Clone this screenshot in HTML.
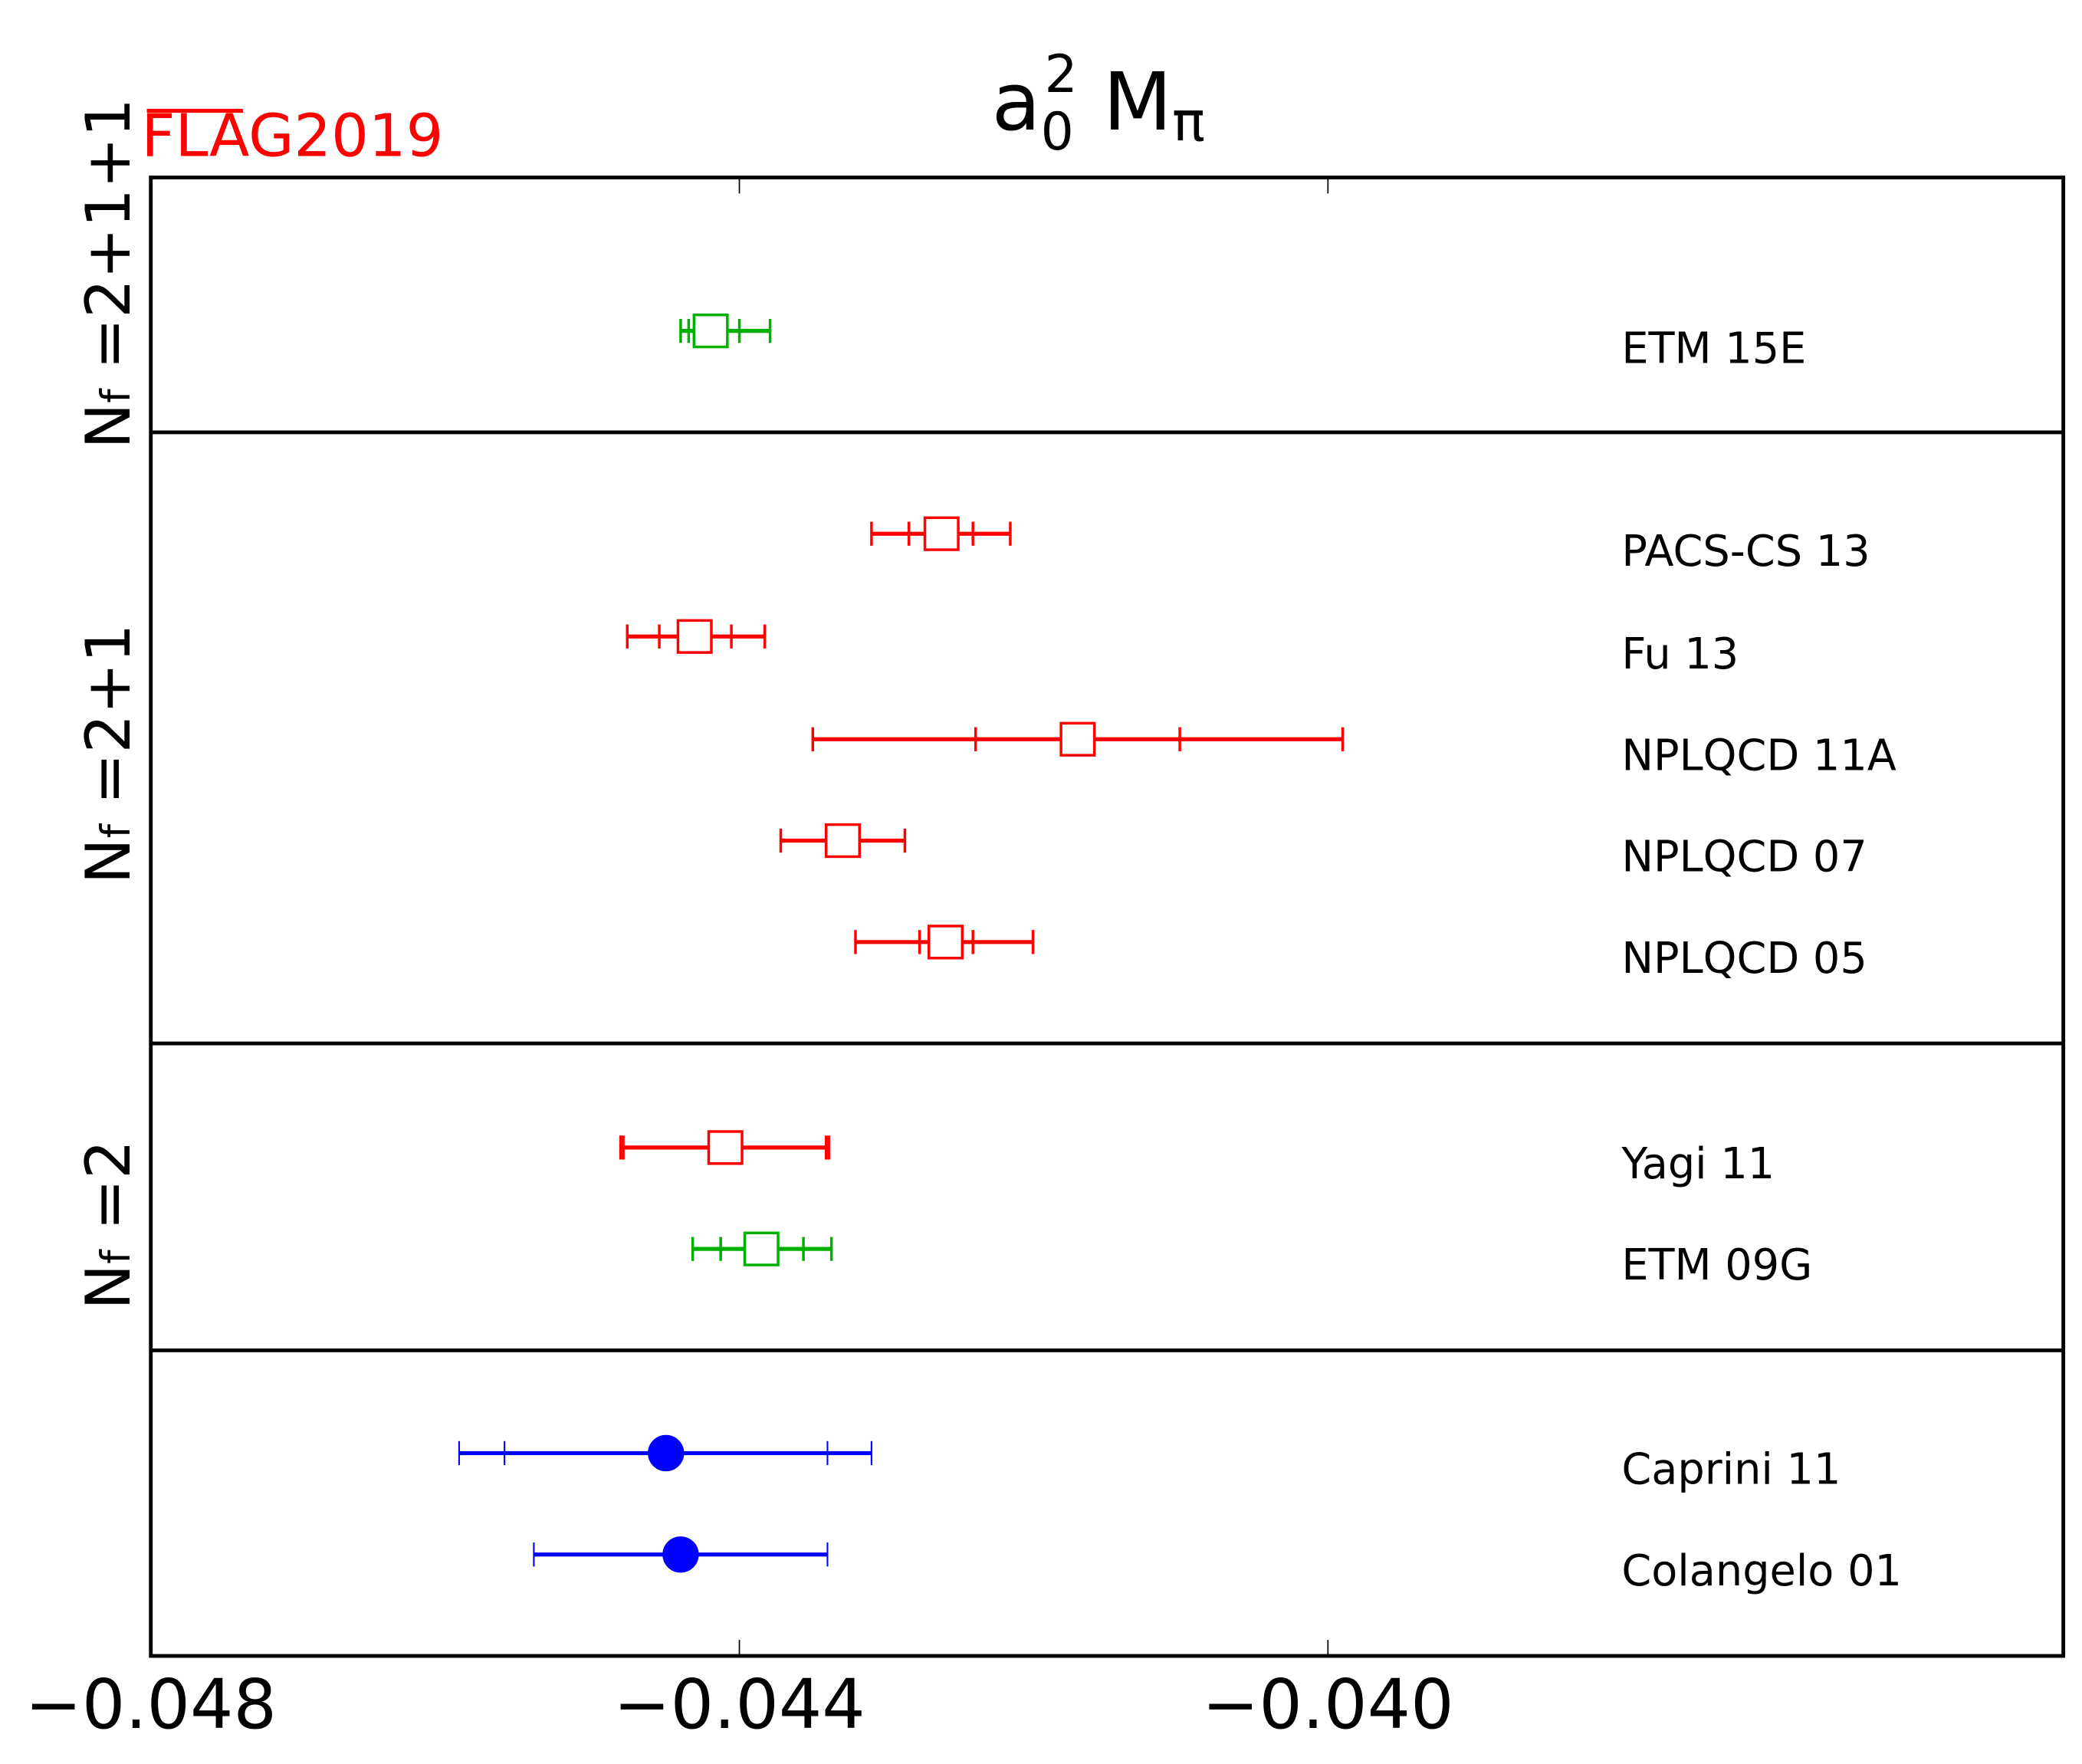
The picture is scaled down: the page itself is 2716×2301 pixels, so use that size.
<!DOCTYPE html>
<html><head><meta charset="utf-8"><style>html,body{margin:0;padding:0;background:#fff}svg{display:block}</style></head>
<body>
<svg width="2716" height="2301" viewBox="0 0 1560 1322" preserveAspectRatio="none" xmlns="http://www.w3.org/2000/svg" font-family="'DejaVu Sans','Liberation Sans',sans-serif">
<rect width="1560" height="1322" fill="#fff"/>
<!-- frame -->
<rect x="113" y="133" width="1433" height="1108" fill="none" stroke="#000" stroke-width="2.8"/>
<line x1="113" y1="324" x2="1546" y2="324" stroke="#000" stroke-width="2.8"/>
<line x1="113" y1="782" x2="1546" y2="782" stroke="#000" stroke-width="2.8"/>
<line x1="113" y1="1012" x2="1546" y2="1012" stroke="#000" stroke-width="2.8"/>
<g stroke="#000" stroke-width="1">
<line x1="554" y1="133" x2="554" y2="145"/><line x1="995" y1="133" x2="995" y2="145"/>
<line x1="554" y1="1241" x2="554" y2="1229"/><line x1="995" y1="1241" x2="995" y2="1229"/>
</g>
<!-- tick labels -->
<g font-size="51" text-anchor="middle" fill="#000">
<text x="113" y="1295">−0.048</text><text x="554" y="1295">−0.044</text><text x="995" y="1295">−0.040</text>
</g>
<!-- title -->
<text x="743" y="97" font-size="60" fill="#000">a<tspan font-size="39" dy="15">0</tspan><tspan font-size="39" dx="-22" dy="-43">2</tspan><tspan dy="28"> M</tspan><tspan font-size="41" dy="8">π</tspan></text>
<!-- FLAG -->
<text x="106" y="117" font-size="44" fill="#f00">FLAG2019</text>
<line x1="110" y1="83" x2="182" y2="83" stroke="#f00" stroke-width="3"/>
<!-- side labels -->
<g font-size="46" fill="#000" text-anchor="middle">
<text transform="translate(97,205) rotate(-90)">N<tspan font-size="30">f</tspan> =2+1+1</text>
<text transform="translate(97,565) rotate(-90)">N<tspan font-size="30">f</tspan> =2+1</text>
<text transform="translate(97,918) rotate(-90)">N<tspan font-size="30">f</tspan> =2</text>
</g>
<!-- data labels -->
<g font-size="32" fill="#000">
<text x="1215" y="272">ETM 15E</text>
<text x="1215" y="424">PACS-CS 13</text>
<text x="1215" y="501">Fu 13</text>
<text x="1215" y="577">NPLQCD 11A</text>
<text x="1215" y="653">NPLQCD 07</text>
<text x="1215" y="729">NPLQCD 05</text>
<text x="1215" y="883">Yagi 11</text>
<text x="1215" y="959">ETM 09G</text>
<text x="1215" y="1112">Caprini 11</text>
<text x="1215" y="1188">Colangelo 01</text>
</g>
<!-- series -->
<g stroke-width="2">
<g stroke="#00b000"><line x1="510" y1="248" x2="577" y2="248" stroke-width="3"/><line x1="510" y1="239" x2="510" y2="257"/><line x1="516" y1="239" x2="516" y2="257"/><line x1="554" y1="239" x2="554" y2="257"/><line x1="577" y1="239" x2="577" y2="257"/><rect x="520" y="236" width="25" height="24" fill="#fff"/></g>
<g stroke="#f00"><line x1="653" y1="400" x2="757" y2="400" stroke-width="3"/><line x1="653" y1="391" x2="653" y2="409"/><line x1="681" y1="391" x2="681" y2="409"/><line x1="729" y1="391" x2="729" y2="409"/><line x1="757" y1="391" x2="757" y2="409"/><rect x="693" y="388" width="25" height="24" fill="#fff"/></g>
<g stroke="#f00"><line x1="470" y1="477" x2="573" y2="477" stroke-width="3"/><line x1="470" y1="468" x2="470" y2="486"/><line x1="494" y1="468" x2="494" y2="486"/><line x1="548" y1="468" x2="548" y2="486"/><line x1="573" y1="468" x2="573" y2="486"/><rect x="508" y="465" width="25" height="24" fill="#fff"/></g>
<g stroke="#f00"><line x1="609" y1="554" x2="1006" y2="554" stroke-width="3"/><line x1="609" y1="545" x2="609" y2="563"/><line x1="731" y1="545" x2="731" y2="563"/><line x1="884" y1="545" x2="884" y2="563"/><line x1="1006" y1="545" x2="1006" y2="563"/><rect x="795" y="542" width="25" height="24" fill="#fff"/></g>
<g stroke="#f00"><line x1="585" y1="630" x2="678" y2="630" stroke-width="3"/><line x1="585" y1="621" x2="585" y2="639"/><line x1="678" y1="621" x2="678" y2="639"/><rect x="619" y="618" width="25" height="24" fill="#fff"/></g>
<g stroke="#f00"><line x1="641" y1="706" x2="774" y2="706" stroke-width="3"/><line x1="641" y1="697" x2="641" y2="715"/><line x1="689" y1="697" x2="689" y2="715"/><line x1="729" y1="697" x2="729" y2="715"/><line x1="774" y1="697" x2="774" y2="715"/><rect x="696" y="694" width="25" height="24" fill="#fff"/></g>
<g stroke="#f00"><line x1="465" y1="860" x2="621" y2="860" stroke-width="3"/><line x1="465" y1="851" x2="465" y2="869"/><line x1="467" y1="851" x2="467" y2="869"/><line x1="619" y1="851" x2="619" y2="869"/><line x1="621" y1="851" x2="621" y2="869"/><rect x="531" y="848" width="25" height="24" fill="#fff"/></g>
<g stroke="#00b000"><line x1="519" y1="936" x2="623" y2="936" stroke-width="3"/><line x1="519" y1="927" x2="519" y2="945"/><line x1="540" y1="927" x2="540" y2="945"/><line x1="602" y1="927" x2="602" y2="945"/><line x1="623" y1="927" x2="623" y2="945"/><rect x="558" y="924" width="25" height="24" fill="#fff"/></g>
<g stroke="#00f" stroke-width="1.2"><line x1="344" y1="1089" x2="653" y2="1089" stroke-width="3"/><line x1="344" y1="1080" x2="344" y2="1098"/><line x1="378" y1="1080" x2="378" y2="1098"/><line x1="620" y1="1080" x2="620" y2="1098"/><line x1="653" y1="1080" x2="653" y2="1098"/><circle cx="499" cy="1089" r="13" fill="#00f"/></g>
<g stroke="#00f" stroke-width="1.2"><line x1="400" y1="1165" x2="620" y2="1165" stroke-width="3"/><line x1="400" y1="1156" x2="400" y2="1174"/><line x1="620" y1="1156" x2="620" y2="1174"/><circle cx="510" cy="1165" r="13" fill="#00f"/></g>
</g>
</svg>
</body></html>
